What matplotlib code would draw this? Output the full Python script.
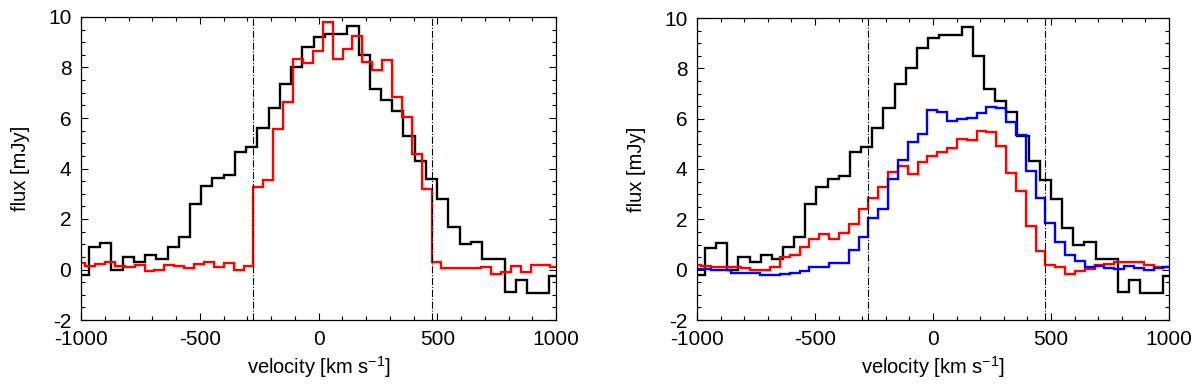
import numpy as np
import matplotlib
matplotlib.use("Agg")
import matplotlib.pyplot as plt
from matplotlib.ticker import MultipleLocator

plt.rcParams['font.family'] = ['Liberation Sans', 'DejaVu Sans']
plt.rcParams['mathtext.default'] = 'regular'
plt.rcParams['axes.unicode_minus'] = False

# black spectrum: 43 channels of ~47.3 km/s starting at -1014 km/s
black_start = -1014.0
black_width = 47.3
black_flux = [-0.2, 0.88, 1.05, 0.0, 0.49, 0.29, 0.58, 0.42, 0.91, 1.28,
              2.59, 3.29, 3.61, 3.74, 4.66, 4.87, 5.62, 6.41, 7.36, 8.01,
              8.8, 9.2, 9.34, 9.34, 9.66, 8.5, 7.16, 6.7, 6.28, 5.3,
              4.3, 3.58, 2.79, 1.67, 1.0, 1.08, 0.42, 0.42, -0.88, -0.4,
              -0.92, -0.92, -0.24]

# red / blue spectra: 49 channels of ~41.67 km/s starting at -1024 km/s
rb_start = -1024.0
rb_width = 41.67
red_left = [0.26, 0.12, 0.2, 0.28, 0.12, 0.1, 0.16, -0.04, 0.0, 0.18,
            0.12, 0.05, 0.2, 0.29, 0.1, 0.26, -0.01, 0.12,
            3.25, 3.55, 5.55, 6.63, 8.34, 8.16, 8.64, 9.79, 8.34, 8.74,
            9.26, 8.2, 7.9, 8.3, 6.84, 6.05, 4.57, 3.18,
            0.29, 0.05, 0.05, 0.05, 0.05, 0.08, -0.18, -0.1, 0.12, -0.08,
            0.16, 0.16, 0.08]
red_right = [0.2, 0.15, 0.1, 0.1, 0.1, 0.05, 0.0, 0.0, 0.1, 0.5,
             0.6, 0.9, 1.2, 1.4, 1.2, 1.45, 1.8, 2.4,
             2.86, 3.29, 3.88, 4.12, 3.82, 4.28, 4.5, 4.67, 4.84, 5.2,
             5.17, 5.5, 5.46, 4.9, 3.86, 3.13, 1.75, 0.76,
             0.17, 0.1, -0.16, -0.07, 0.04, 0.17, 0.24, 0.3, 0.3, 0.3,
             0.17, 0.1, 0.1]
blue_right = [0.02, 0.02, 0.0, 0.0, -0.12, -0.12, -0.15, -0.22, -0.22, -0.18,
              -0.12, -0.07, 0.1, 0.1, 0.26, 0.28, 0.79, 1.28,
              2.04, 2.4, 3.6, 4.36, 5.08, 5.4, 6.36, 6.27, 5.89, 5.97,
              6.04, 6.22, 6.45, 6.43, 5.87, 5.37, 3.93, 2.83,
              1.86, 1.09, 0.57, 0.33, 0.1, 0.14, 0.07, 0.04, 0.13, 0.07,
              0.0, 0.05, 0.1]

vlines = [-274, 476]


def edges(start, width, n):
    return start + width * np.arange(n + 1)


def style(ax):
    ax.set_xlim(-1000, 1000)
    ax.set_ylim(-2, 10)
    ax.xaxis.set_major_locator(MultipleLocator(500))
    ax.xaxis.set_minor_locator(MultipleLocator(100))
    ax.yaxis.set_major_locator(MultipleLocator(2))
    ax.yaxis.set_minor_locator(MultipleLocator(0.5))
    ax.tick_params(which='both', direction='in', top=True, right=True,
                   labelsize=15, width=0.8)
    ax.tick_params(which='major', length=5)
    ax.tick_params(which='minor', length=3)
    ax.tick_params(axis='x', pad=7)
    ax.tick_params(axis='y', pad=7)
    for s in ax.spines.values():
        s.set_linewidth(0.9)
    for v in vlines:
        ax.axvline(v, color='black', lw=0.8, ls='-.')
    ax.set_xlabel('velocity [km s$^{-1}$]', fontsize=14.5, labelpad=4)
    ax.set_ylabel('flux [mJy]', fontsize=14.5, labelpad=13)


fig = plt.figure(figsize=(12, 3.85), dpi=100)
ax1 = fig.add_axes([81 / 1200, 65 / 385, 475 / 1200, 303 / 385])
ax2 = fig.add_axes([697 / 1200, 65 / 385, 472 / 1200, 302 / 385])

be = edges(black_start, black_width, len(black_flux))
re = edges(rb_start, rb_width, len(red_left))

ax1.stairs(black_flux, be, baseline=None, color='black', lw=1.7)
ax1.stairs(red_left, re, baseline=None, color='red', lw=1.7)

ax2.stairs(black_flux, be, baseline=None, color='black', lw=1.7)
ax2.stairs(red_right, re, baseline=None, color='red', lw=1.7)
ax2.stairs(blue_right, re, baseline=None, color='blue', lw=1.7)

style(ax1)
style(ax2)

fig.savefig('out.png', dpi=100)
